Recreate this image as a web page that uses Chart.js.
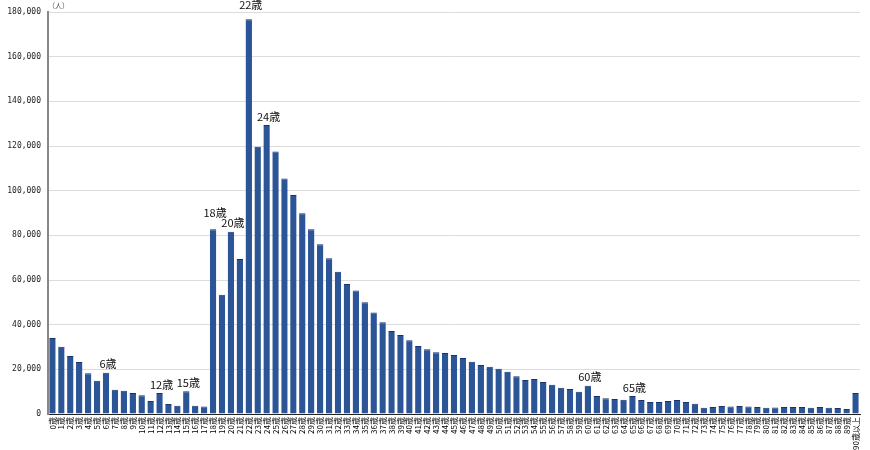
<!DOCTYPE html>
<html>
<head>
<meta charset="utf-8">
<script src="https://cdn.jsdelivr.net/npm/chart.js@4/dist/chart.umd.min.js"></script>
<style>
  html, body { margin: 0; padding: 0; background: #fff; }
  #wrap { width: 870px; height: 450px; position: relative; }
</style>
</head>
<body>
<div id="wrap"><canvas id="c" width="870" height="450"></canvas></div>
<script>
// ---- data ----
const ages = [];
for (let a = 0; a <= 89; a++) ages.push(a + '歳');
ages.push('90歳以上');

const population = [
  34000, 30100, 26000, 23300, 18200, 14900, 18500, 10900, 10400, 9400,
  8400, 5800, 9400, 4500, 3700, 10200, 3700, 3400, 82700, 53400,
  81600, 69400, 176700, 119700, 129400, 117500, 105500, 98100, 89900, 82700,
  76000, 69700, 63700, 58200, 55300, 50000, 45500, 41100, 37200, 35400,
  33000, 30500, 29000, 27600, 27300, 26400, 25100, 23400, 21900, 21200,
  20300, 18900, 16900, 15200, 15700, 14300, 13100, 11800, 11200, 10000,
  12700, 8100, 7000, 6700, 6400, 8100, 6300, 5400, 5400, 5800,
  6300, 5400, 4600, 2800, 3100, 3600, 3400, 3600, 3400, 3100,
  2800, 2900, 3100, 3100, 3100, 2800, 3100, 2800, 2700, 2200,
  9400
];

const yTicks = [0, 20000, 40000, 60000, 80000, 100000, 120000, 140000, 160000, 180000];
const annotatedAges = [6, 12, 15, 18, 20, 22, 24, 60, 65];
const unitLabel = '（人）';

// ---- plugins ----
const annotationPlugin = {
  id: 'ageAnnotations',
  afterDatasetsDraw(chart, args, opts) {
    const ctx = chart.ctx;
    const meta = chart.getDatasetMeta(0);
    ctx.save();
    ctx.font = '11px "Noto Sans CJK JP", "Noto Sans", sans-serif';
    ctx.fillStyle = '#111';
    ctx.textAlign = 'center';
    ctx.textBaseline = 'bottom';
    annotatedAges.forEach(age => {
      const el = meta.data[age];
      const lift = (opts.lift && opts.lift[age]) || 0;
      ctx.fillText(ages[age], el.x + 2, el.y - 3 - lift);
    });
    // unit label
    ctx.font = '7px "Noto Sans CJK JP", sans-serif';
    ctx.fillStyle = '#555';
    ctx.textAlign = 'left';
    ctx.textBaseline = 'top';
    ctx.fillText(unitLabel, chart.chartArea.left, 2);
    ctx.restore();
  }
};

new Chart(document.getElementById('c'), {
  type: 'bar',
  data: {
    labels: ages,
    datasets: [{
      data: population,
      backgroundColor: '#2b5597',
      borderColor: '#17326e',
      borderWidth: { top: 1, left: 0, right: 0, bottom: 0 },
      borderSkipped: false,
      barPercentage: 0.72,
      categoryPercentage: 1.0
    }]
  },
  options: {
    responsive: false,
    animation: false,
    devicePixelRatio: 1,
    layout: { padding: { top: 12, right: 10, left: 0, bottom: 0 } },
    plugins: {
      legend: { display: false },
      tooltip: { enabled: false },
      ageAnnotations: { lift: { 18: 8, 22: 6 } }
    },
    scales: {
      x: {
        grid: { display: false, drawTicks: false },
        border: { display: true, color: '#222', width: 1 },
        ticks: {
          autoSkip: false,
          maxRotation: 90,
          minRotation: 90,
          padding: 3,
          color: '#000',
          font: { size: 8, family: '"Noto Sans CJK JP", sans-serif' }
        },
        afterFit(scale) { scale.height = 36; }
      },
      y: {
        min: 0,
        max: 180000,
        grid: { color: '#dcdcdc', lineWidth: 1, drawTicks: false },
        border: { display: true, color: '#888', width: 2 },
        afterBuildTicks(scale) { scale.ticks = yTicks.map(v => ({ value: v })); },
        ticks: {
          padding: 7,
          color: '#222',
          font: { size: 8, family: '"DejaVu Sans Mono", monospace' },
          callback: v => v.toLocaleString('en-US')
        },
        afterFit(scale) { scale.width = 48; }
      }
    }
  },
  plugins: [annotationPlugin]
});
</script>
</body>
</html>
